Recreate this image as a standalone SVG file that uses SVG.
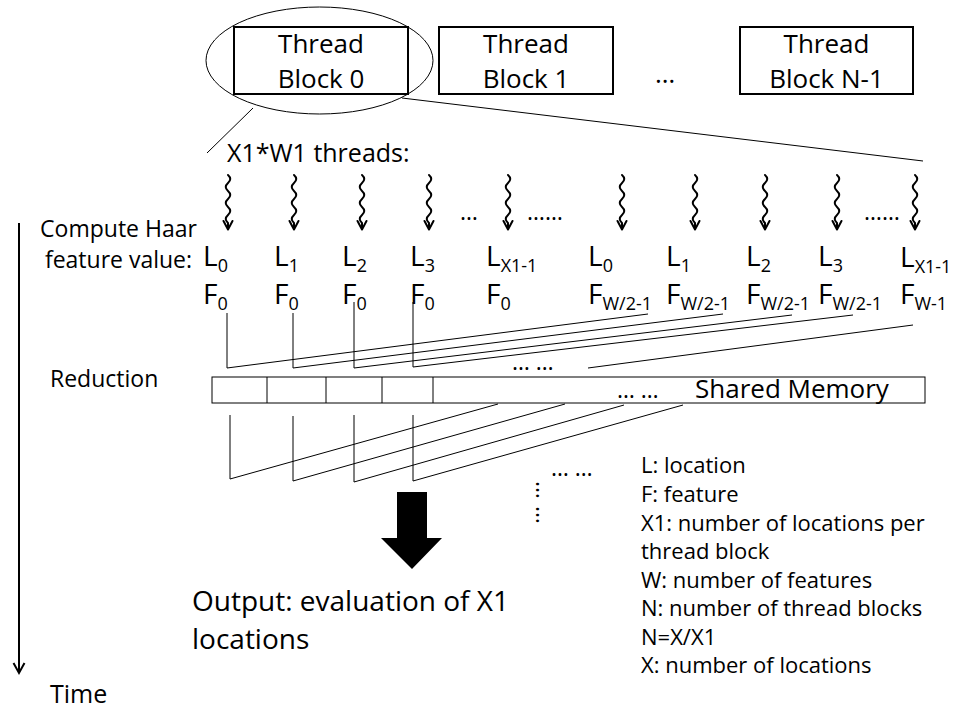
<svg xmlns="http://www.w3.org/2000/svg" xmlns:xlink="http://www.w3.org/1999/xlink" width="953" height="709" viewBox="0 0 953 709">
  <style>
    text { font-family: "Open Sans", "Noto Sans", "DejaVu Sans", sans-serif; fill: #000; }
    .blk { font-size: 26px; text-anchor: middle; }
    .lbl { font-size: 23px; }
    .leg { font-size: 22px; }
    .lf { font-size: 28px; }
    .sub { font-size: 18px; }
    .box { fill: #fff; stroke: #000; stroke-width: 2; }
    .thin { fill: none; stroke: #000; stroke-width: 1; }
    .wave { fill: none; stroke: #000; stroke-width: 2; stroke-linecap: round; stroke-linejoin: round; }
  </style>
  <defs>
    <!-- a thread: wavy line ending in an open arrowhead -->
    <g id="thread">
      <path class="wave" d="M0,175 q4.5,4 0,8 t0,8 t0,8 t0,8 t0,8 t0,8 L0,229"/>
      <path class="wave" d="M-4.5,221 L0,229.5 L4.5,221"/>
    </g>
  </defs>

  <rect width="953" height="709" fill="#fff"/>

  <!-- thread blocks -->
  <g id="block0">
    <rect class="box" x="234" y="27" width="174" height="67"/>
    <text class="blk" x="321" y="53">Thread</text>
    <text class="blk" x="321" y="88">Block 0</text>
  </g>
  <g id="block1">
    <rect class="box" x="439" y="27" width="174" height="67"/>
    <text class="blk" x="526" y="53">Thread</text>
    <text class="blk" x="526" y="88">Block 1</text>
  </g>
  <g id="blocks-gap">
    <text class="blk" x="665" y="83">…</text>
  </g>
  <g id="blockN1">
    <rect class="box" x="740" y="27" width="173" height="67"/>
    <text class="blk" x="826.5" y="53">Thread</text>
    <text class="blk" x="826.5" y="88">Block N-1</text>
  </g>

  <!-- zoom-in callout on block 0 -->
  <g id="callout">
    <ellipse class="thin" cx="319.5" cy="60.5" rx="113.5" ry="53.5"/>
  </g>

  <!-- threads -->
  <g id="threads">
    <text x="227" y="162" style="font-size:25px">X1*W1 threads:</text>
    <use xlink:href="#thread" x="228"/>
    <use xlink:href="#thread" x="294"/>
    <use xlink:href="#thread" x="362"/>
    <use xlink:href="#thread" x="429"/>
    <use xlink:href="#thread" x="508"/>
    <use xlink:href="#thread" x="622"/>
    <use xlink:href="#thread" x="695"/>
    <use xlink:href="#thread" x="765"/>
    <use xlink:href="#thread" x="837"/>
    <use xlink:href="#thread" x="915"/>
    <text class="lbl" x="460" y="220">…</text>
    <text class="lbl" x="527" y="220">……</text>
    <text class="lbl" x="864" y="220">……</text>
  </g>

  <!-- stage labels and time axis -->
  <g id="stage-labels">
    <text class="lbl" x="118.5" y="237" text-anchor="middle">Compute Haar</text>
    <text class="lbl" x="118.5" y="268" text-anchor="middle">feature value:</text>
    <text class="lbl" x="50" y="387">Reduction</text>
  </g>
  <g id="time-axis">
    <line x1="19" y1="223" x2="19" y2="672" stroke="#000" stroke-width="2"/>
    <path d="M13.5,663 L19,673 L24.5,663" fill="none" stroke="#000" stroke-width="2"/>
    <text x="50" y="703" style="font-size:25px">Time</text>
  </g>

  <!-- per-thread location / feature pairs -->
  <g id="pair1"><text class="lf" x="203" y="266">L<tspan class="sub" dy="6">0</tspan></text><text class="lf" x="203" y="304">F<tspan class="sub" dy="6">0</tspan></text></g>
  <g id="pair2"><text class="lf" x="274" y="266">L<tspan class="sub" dy="6">1</tspan></text><text class="lf" x="274" y="304">F<tspan class="sub" dy="6">0</tspan></text></g>
  <g id="pair3"><text class="lf" x="342" y="266">L<tspan class="sub" dy="6">2</tspan></text><text class="lf" x="342" y="304">F<tspan class="sub" dy="6">0</tspan></text></g>
  <g id="pair4"><text class="lf" x="410" y="266">L<tspan class="sub" dy="6">3</tspan></text><text class="lf" x="410" y="304">F<tspan class="sub" dy="6">0</tspan></text></g>
  <g id="pair5"><text class="lf" x="486" y="266">L<tspan class="sub" dy="6">X1-1</tspan></text><text class="lf" x="486" y="304">F<tspan class="sub" dy="6">0</tspan></text></g>
  <g id="pair6"><text class="lf" x="588" y="266">L<tspan class="sub" dy="6">0</tspan></text><text class="lf" x="588" y="304">F<tspan class="sub" dy="6">W/2-1</tspan></text></g>
  <g id="pair7"><text class="lf" x="666" y="266">L<tspan class="sub" dy="6">1</tspan></text><text class="lf" x="666" y="304">F<tspan class="sub" dy="6">W/2-1</tspan></text></g>
  <g id="pair8"><text class="lf" x="746" y="266">L<tspan class="sub" dy="6">2</tspan></text><text class="lf" x="746" y="304">F<tspan class="sub" dy="6">W/2-1</tspan></text></g>
  <g id="pair9"><text class="lf" x="818" y="266">L<tspan class="sub" dy="6">3</tspan></text><text class="lf" x="818" y="304">F<tspan class="sub" dy="6">W/2-1</tspan></text></g>
  <g id="pair10"><text class="lf" x="900" y="267">L<tspan class="sub" dy="6">X1-1</tspan></text><text class="lf" x="900" y="304">F<tspan class="sub" dy="6">W-1</tspan></text></g>

  <!-- shared memory array -->
  <g id="shared-memory">
    <rect class="thin" x="212" y="377" width="713" height="26"/>
    <line class="thin" x1="267" y1="377" x2="267" y2="403"/>
    <line class="thin" x1="326" y1="377" x2="326" y2="403"/>
    <line class="thin" x1="382" y1="377" x2="382" y2="403"/>
    <line class="thin" x1="433" y1="377" x2="433" y2="403"/>
    <text class="lbl" x="617" y="398">… …</text>
    <text x="695" y="398" style="font-size:26px">Shared Memory</text>
  </g>

  <!-- output -->
  <g id="output">
    <polygon points="397,492 427,492 427,538 442,538 412,569 381,538 397,538" fill="#000"/>
    <text x="192" y="611" style="font-size:28px">Output: evaluation of X1</text>
    <text x="192" y="649" style="font-size:28px">locations</text>
  </g>

  <!-- legend -->
  <g id="legend">
    <text class="leg" x="641" y="473">L: location</text>
    <text class="leg" x="641" y="502">F: feature</text>
    <text class="leg" x="641" y="531">X1: number of locations per</text>
    <text class="leg" x="641" y="559">thread block</text>
    <text class="leg" x="641" y="588">W: number of features</text>
    <text class="leg" x="641" y="616">N: number of thread blocks</text>
    <text class="leg" x="641" y="645">N=X/X1</text>
    <text class="leg" x="641" y="673">X: number of locations</text>
  </g>

  <!-- connectors -->
  <g id="connectors" class="thin">
    <!-- callout leaders -->
    <line x1="253" y1="108" x2="207" y2="153"/>
    <line x1="402" y1="98" x2="923" y2="161"/>
    <!-- partial values written into shared memory -->
    <polyline points="227,313 227,368 648,314"/>
    <polyline points="293,313 293,368 723,314"/>
    <polyline points="354,302 354,368 792,315"/>
    <polyline points="413,302 413,367 853,315"/>
    <line x1="588" y1="368" x2="913" y2="325"/>
    <text class="lbl" x="512" y="370" stroke="none">… …</text>
    <!-- tree reduction out of shared memory -->
    <polyline points="230,415 230,479 498,404"/>
    <polyline points="293,416 293,481 565,404"/>
    <polyline points="354,415 354,482 624,405"/>
    <polyline points="413,415 413,481 683,405"/>
    <text class="lbl" x="551" y="476" stroke="none">… …</text>
    <text class="lbl" transform="translate(536,481) rotate(90)" stroke="none">…</text>
    <text class="lbl" transform="translate(536,506) rotate(90)" stroke="none">…</text>
  </g>
</svg>
